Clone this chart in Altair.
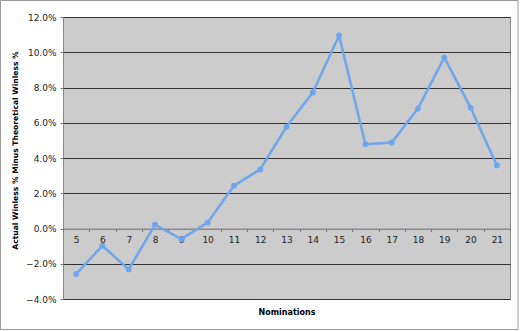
import altair as alt
import pandas as pd

nominations = [5, 6, 7, 8, 9, 10, 11, 12, 13, 14, 15, 16, 17, 18, 19, 20, 21]
diff_pct = [-2.58, -0.98, -2.32, 0.22, -0.60, 0.33, 2.43, 3.35, 5.77, 7.72, 10.95,
            4.78, 4.88, 6.81, 9.70, 6.86, 3.58]
y_ticks = [-0.04, -0.02, 0.0, 0.02, 0.04, 0.06, 0.08, 0.10, 0.12]

df = pd.DataFrame({"Nominations": nominations, "Diff": [v / 100 for v in diff_pct]})

FONT = "DejaVu Sans"
LINE = "#6ea6ee"

x_enc = alt.X(
    "Nominations:O",
    scale=alt.Scale(paddingInner=0, paddingOuter=0),
    axis=alt.Axis(
        title="Nominations",
        titleFont=FONT, titleFontSize=8, titleFontWeight="bold", titleColor="#000",
        titleY=84, titleBaseline="middle",
        labelAngle=0, labelFont=FONT, labelFontSize=9, labelColor="#222",
        labelPadding=4,
        offset=-70.5,
        domainColor="#888", domainWidth=1,
        tickBand="extent", tickSize=3, tickColor="#777",
        grid=False,
    ),
)

y_enc = alt.Y(
    "Diff:Q",
    scale=alt.Scale(domain=[-0.04, 0.12], nice=False, zero=False),
    axis=alt.Axis(
        title="Actual Winless % Minus Theoretical Winless %",
        titleFont=FONT, titleFontSize=7.6, titleFontWeight="bold", titleColor="#000",
        titleAngle=-90, titleX=-48, titleY=133, titleAlign="center", titleBaseline="middle",
        values=y_ticks, format=".1%",
        labelFont=FONT, labelFontSize=9, labelColor="#222", labelPadding=4,
        tickSize=3, tickColor="#777",
        domain=False,
        grid=True,
        gridColor={"condition": {"test": "datum.value === 0", "value": "#888"}, "value": "#333"},
        gridWidth=1,
    ),
)

border = alt.Chart(pd.DataFrame({"a": [0]})).mark_rect(
    fill=None, stroke="#999", strokeWidth=1, clip=False
).encode(
    x=alt.value(-62.5), x2=alt.value(455), y=alt.value(-16.5), y2=alt.value(312.5)
)

line = alt.Chart(df).mark_line(
    color=LINE, strokeWidth=2.5,
    point=alt.OverlayMarkDef(color=LINE, filled=True, size=34, opacity=1),
).encode(x=x_enc, y=y_enc)

chart = alt.layer(border, line).properties(
    width=447, height=282,
    autosize=alt.AutoSizeParams(type="none"),
    padding={"left": 63, "top": 17, "right": 10, "bottom": 32},
    background="white",
).configure_view(
    fill="#cccccc", stroke="#888", strokeWidth=1
)

chart.save("out.html", embed_options={"renderer": "svg", "actions": False})
